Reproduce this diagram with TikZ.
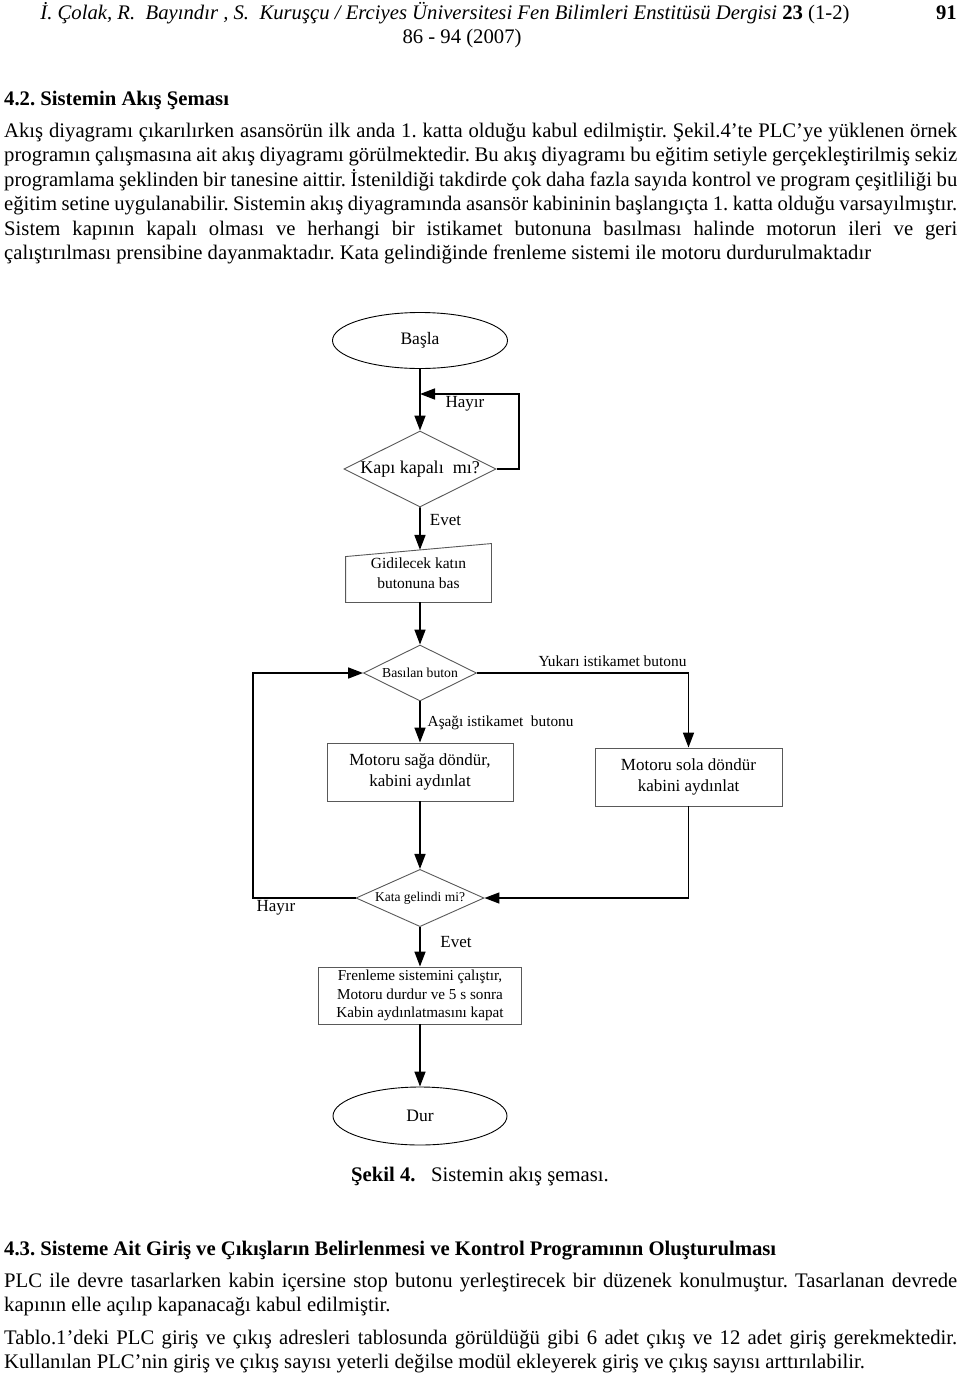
\documentclass[tikz,border=0pt]{standalone}
\usepackage{fontspec}
\setmainfont{Liberation Serif}
\usetikzlibrary{shapes.geometric,arrows.meta,calc}
\frenchspacing

% one justified line of body text
\newcommand{\fullline}[1]{\makebox[953pt][s]{#1}}

\tikzset{
  txt/.style={anchor=base west, inner sep=0pt, font=\fontsize{20.7}{24.5}\selectfont},
  terminal/.style={ellipse, draw, line width=0.9pt, minimum width=175pt, minimum height=56pt, inner sep=0pt, font=\fontsize{17.5}{20}\selectfont},
  decision/.style={diamond, draw=black!65, line width=0.9pt, inner sep=0pt, aspect=2},
  process/.style={rectangle, draw=black!65, line width=0.9pt, align=center, inner sep=0pt},
  link/.style={line width=1.6pt, -{Triangle[length=15pt,width=11pt]}},
  lbl/.style={inner sep=0pt, font=\fontsize{17}{20}\selectfont},
}

\begin{document}
\begin{tikzpicture}[x=1pt,y=-1pt]
\useasboundingbox (0,0) rectangle (960,1379);
\fill[white] (0,0) rectangle (960,1379);

% Drawing page header
\node[txt, anchor=base] (hdr) at (445,19) {\itshape İ. Çolak, R.~ Bayındır , S.~ Kuruşçu / Erciyes Üniversitesi Fen Bilimleri Enstitüsü Dergisi {\upshape\bfseries 23} {\upshape (1-2)}};
\node[txt, anchor=base east] (pgno) at (957,19) {\bfseries 91};
\node[txt, anchor=base] (hdrb) at (462,43) {86 - 94 (2007)};

% Drawing section 4.2 text
\node[txt] (sec1) at (4,105) {\bfseries 4.2. Sistemin Akış Şeması};
\node[txt] (p1a) at (4,137) {\fullline{Akış diyagramı çıkarılırken asansörün ilk anda 1. katta olduğu kabul edilmiştir. Şekil.4’te PLC’ye yüklenen örnek}};
\node[txt] (p1b) at (4,161.5) {\fullline{programın çalışmasına ait akış diyagramı görülmektedir. Bu akış diyagramı bu eğitim setiyle gerçekleştirilmiş sekiz}};
\node[txt] (p1c) at (4,186) {\fullline{programlama şeklinden bir tanesine aittir. İstenildiği takdirde çok daha fazla sayıda kontrol ve program çeşitliliği bu}};
\node[txt] (p1d) at (4,210.5) {\fullline{eğitim setine uygulanabilir. Sistemin akış diyagramında asansör kabininin başlangıçta 1. katta olduğu varsayılmıştır.}};
\node[txt] (p1e) at (4,235) {\fullline{Sistem kapının kapalı olması ve herhangi bir istikamet butonuna basılması halinde motorun ileri ve geri}};
\node[txt] (p1f) at (4,259.5) {çalıştırılması prensibine dayanmaktadır. Kata gelindiğinde frenleme sistemi ile motoru durdurulmaktadır};

% Drawing flowchart nodes
\node[terminal] (basla) at (420,340.5) {Başla};
\node[decision, minimum width=143pt, minimum height=72pt, font=\fontsize{18}{20}\selectfont] (kapi) at (420,469) {Kapı kapalı~ mı?};
\node[process, draw=none, minimum width=145pt, minimum height=58pt, font=\fontsize{15.5}{19.5}\selectfont] (gid) at (418.5,573) {Gidilecek katın\\butonuna bas};
\node[decision, minimum width=113pt, minimum height=56pt, font=\fontsize{13.7}{16}\selectfont] (basilan) at (420,673) {Basılan buton};
\node[process, minimum width=186pt, minimum height=58pt, font=\fontsize{17}{20.5}\selectfont] (saga) at (420,772) {Motoru sağa döndür,\\kabini aydınlat};
\node[process, minimum width=187pt, minimum height=58pt, font=\fontsize{17}{20.5}\selectfont] (sola) at (688.5,777) {Motoru sola döndür\\kabini aydınlat};
\node[decision, minimum width=128pt, minimum height=56pt, font=\fontsize{13.5}{16}\selectfont] (kata) at (420,898) {Kata gelindi mi?};
\node[process, minimum width=203pt, minimum height=57pt, font=\fontsize{15.2}{18.5}\selectfont] (fren) at (420,995.5) {Frenleme sistemini çalıştır,\\Motoru durdur ve 5 s sonra\\Kabin aydınlatmasını kapat};
\node[terminal, minimum width=174pt, minimum height=58pt] (dur) at (420,1116) {Dur};

% Drawing manual input outline
\coordinate (gidnw) at ([yshift=-13pt]gid.north west);
\coordinate (gidin) at ($(gidnw)!0.51!(gid.north east)$);
\draw[draw=black!65, line width=0.9pt] (gid.south west) -- (gid.south east) -- (gid.north east) -- (gidnw) -- cycle;

% Drawing loop corners
\coordinate (hloop) at (519,394);
\coordinate (nloop) at (253,898);

% Drawing connectors
\draw[link] (basla.south) -- (kapi.north);
\draw[link] (kapi.east) -| (hloop) -- (hloop -| kapi.north);
\draw[link] (kapi.south) -- (gidin);
\draw[link] (gid.south -| basilan.north) -- (basilan.north);
\draw[link] (basilan.east) -| (sola.north);
\draw[link] (basilan.south) -- (saga.north);
\draw[link] (saga.south) -- (kata.north);
\draw[link] (sola.south) |- (kata.east);
\draw[link] (kata.west) -- (nloop) |- (basilan.west);
\draw[link] (kata.south) -- (fren.north);
\draw[link] (fren.south) -- (dur.north);

% Drawing connector labels
\node[lbl] (hayir1) at (465,404) {Hayır};
\node[lbl] (evet1) at (445.5,520) {Evet};
\node[lbl, font=\fontsize{15.4}{18}\selectfont] (yukari) at (612.5,661) {Yukarı istikamet butonu};
\node[lbl, anchor=west, font=\fontsize{15.3}{18}\selectfont] (asagi) at (427.5,723) {Aşağı istikamet~ butonu};
\node[lbl] (hayir2) at (276,908) {Hayır};
\node[lbl] (evet2) at (456,942) {Evet};

% Drawing caption
\node[txt, anchor=base] (cap) at (480,1181) {\textbf{Şekil 4.}~~ Sistemin akış şeması.};

% Drawing section 4.3 text
\node[txt] (sec2) at (4,1255) {\bfseries 4.3. Sisteme Ait Giriş ve Çıkışların Belirlenmesi ve Kontrol Programının Oluşturulması};
\node[txt] (p2a) at (4,1287) {\fullline{PLC ile devre tasarlarken kabin içersine stop butonu yerleştirecek bir düzenek konulmuştur. Tasarlanan devrede}};
\node[txt] (p2b) at (4,1311) {kapının elle açılıp kapanacağı kabul edilmiştir.};
\node[txt] (p3a) at (4,1344) {\fullline{Tablo.1’deki PLC giriş ve çıkış adresleri tablosunda görüldüğü gibi 6 adet çıkış ve 12 adet giriş gerekmektedir.}};
\node[txt] (p3b) at (4,1368) {Kullanılan PLC’nin giriş ve çıkış sayısı yeterli değilse modül ekleyerek giriş ve çıkış sayısı arttırılabilir.};
\end{tikzpicture}
\end{document}
